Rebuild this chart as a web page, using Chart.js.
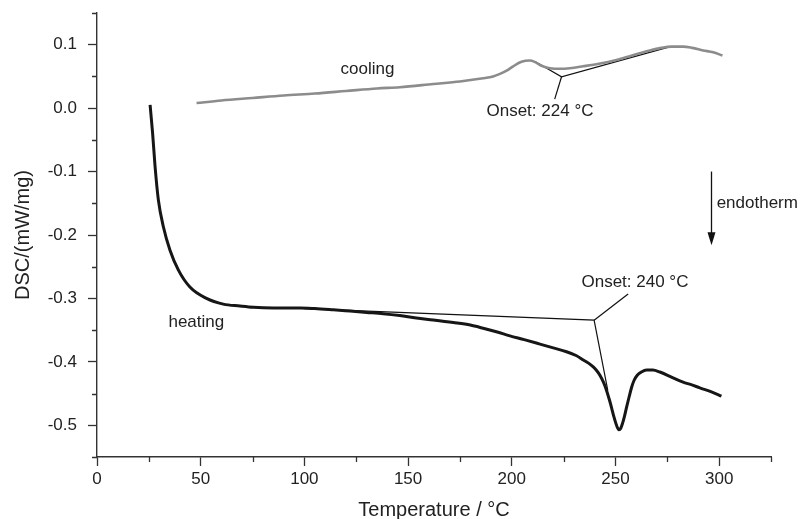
<!DOCTYPE html>
<html>
<head>
<meta charset="utf-8">
<script src="https://cdn.jsdelivr.net/npm/chart.js@4/dist/chart.umd.min.js"></script>
<style>
  html, body { margin: 0; padding: 0; background: #fff; }
  #wrap { width: 801px; height: 519px; }
</style>
</head>
<body>
<div id="wrap"><canvas id="dsc" width="801" height="519"></canvas></div>
<script>
// heating run (black)
const heatTemp = [25.6, 26.8, 28.0, 29.6, 32.0, 35.2, 39.2, 44.8, 52.8, 60.9, 68.9, 75.4, 85.0, 97.9, 105,
  113.9, 122, 130, 138, 146, 154, 162.1, 171.8, 180, 186.2, 193, 199.1, 206, 213.6, 220, 226.4, 231, 234.5,
  237, 239.3, 241, 242.5, 244.2, 245.7, 247, 248.1, 249.2, 250.2, 251, 251.7, 252.5, 253.4, 254.4, 255.4,
  256.6, 257.8, 259.0, 260.5, 262.5, 265, 268, 271.4, 277, 282.6, 286.5, 290.7, 296, 301.1];
const heatDsc = [0.005, -0.039, -0.092, -0.145, -0.187, -0.224, -0.255, -0.282, -0.300, -0.309, -0.312,
  -0.314, -0.315, -0.315, -0.316, -0.318, -0.320, -0.322, -0.324, -0.327, -0.331, -0.334, -0.338, -0.342,
  -0.347, -0.353, -0.359, -0.365, -0.372, -0.378, -0.384, -0.390, -0.397, -0.402, -0.408, -0.414, -0.421,
  -0.432, -0.445, -0.459, -0.472, -0.486, -0.497, -0.504, -0.507, -0.505, -0.497, -0.485, -0.471, -0.455,
  -0.440, -0.429, -0.421, -0.416, -0.413, -0.413, -0.416, -0.424, -0.432, -0.436, -0.441, -0.447, -0.454];

// cooling run (grey)
const coolTemp = [48, 60, 75, 90, 105, 120, 135, 146, 162.1, 175, 186.2, 191, 194.3, 197.5, 200.7, 204.7, 208.7,
  211, 213.6, 216, 218.4, 223.2, 228, 234.4, 242, 250.5, 258, 266.6, 272, 277, 282.6, 287, 292.3, 297.1, 301.6];
const coolDsc = [0.008, 0.012, 0.016, 0.020, 0.023, 0.027, 0.031, 0.033, 0.038, 0.042, 0.047, 0.050, 0.054,
  0.059, 0.066, 0.073, 0.075, 0.073, 0.068, 0.065, 0.063, 0.062, 0.063, 0.066, 0.070, 0.076, 0.083, 0.091,
  0.095, 0.097, 0.097, 0.095, 0.091, 0.088, 0.083];

// onset construction lines
const coolTangentTemp = [211.2, 224.0, 276.5];
const coolTangentDsc = [0.0737, 0.0495, 0.097];
const coolLeaderTemp = [224.0, 220.7];
const coolLeaderDsc = [0.0495, 0.0142];
const heatTangentTemp = [100, 239.7, 246.3];
const heatTangentDsc = [-0.316, -0.3343, -0.445];
const heatLeaderTemp = [239.7, 256.1];
const heatLeaderDsc = [-0.3343, -0.293];

const xTickValues = [0, 50, 100, 150, 200, 250, 300];
const yTickValues = [-0.5, -0.4, -0.3, -0.2, -0.1, 0.0, 0.1];

const FONT = "'Liberation Sans', Arial, sans-serif";
const INK = '#222';

function toPoints(xs, ys) {
    return xs.map((x, i) => ({ x: x, y: ys[i] }));
}

// short minor ticks, annotation text and the endotherm arrow
const extrasPlugin = {
    id: 'extras',
    afterDraw(chart) {
        const ctx = chart.ctx;
        const xs = chart.scales.x;
        const ys = chart.scales.y;
        ctx.save();
        ctx.strokeStyle = '#333';
        ctx.lineWidth = 1.3;
        ctx.beginPath();
        for (let v = 25; v <= 325; v += 50) {
            const px = Math.round(xs.getPixelForValue(v)) + 0.5;
            ctx.moveTo(px, ys.bottom);
            ctx.lineTo(px, ys.bottom + 5);
        }
        for (let v = -0.55; v <= 0.151; v += 0.1) {
            const py = Math.round(ys.getPixelForValue(v)) + 0.5;
            ctx.moveTo(xs.left, py);
            ctx.lineTo(xs.left - 5, py);
        }
        ctx.stroke();

        ctx.fillStyle = INK;
        ctx.font = '17px ' + FONT;
        ctx.textBaseline = 'middle';
        const notes = [
            ['cooling', 130.4, 0.0605, 'center'],
            ['heating', 47.9, -0.338, 'center'],
            ['Onset: 224 °C', 213.6, -0.0054, 'center'],
            ['Onset: 240 °C', 259.4, -0.275, 'center'],
            ['endotherm', 298.8, -0.150, 'left']
        ];
        notes.forEach(([text, t, v, align]) => {
            ctx.textAlign = align;
            ctx.fillText(text, xs.getPixelForValue(t), ys.getPixelForValue(v));
        });

        // arrow pointing down
        const ax = Math.round(xs.getPixelForValue(296.3)) + 0.5;
        const ay0 = ys.getPixelForValue(-0.100);
        const ay1 = ys.getPixelForValue(-0.216);
        ctx.strokeStyle = '#111';
        ctx.lineWidth = 1.3;
        ctx.beginPath();
        ctx.moveTo(ax, ay0);
        ctx.lineTo(ax, ay1 - 10);
        ctx.stroke();
        ctx.fillStyle = '#111';
        ctx.beginPath();
        ctx.moveTo(ax - 4, ay1 - 13);
        ctx.lineTo(ax + 4, ay1 - 13);
        ctx.lineTo(ax, ay1);
        ctx.closePath();
        ctx.fill();
        ctx.restore();
    }
};

const thinLine = (xs, ys) => ({
    data: toPoints(xs, ys),
    borderColor: '#111',
    borderWidth: 1.2,
    pointRadius: 0,
    tension: 0
});

new Chart(document.getElementById('dsc'), {
    type: 'line',
    data: {
        datasets: [
            {
                data: toPoints(coolTemp, coolDsc),
                borderColor: '#8c8c8c',
                borderWidth: 2.6,
                pointRadius: 0,
                cubicInterpolationMode: 'monotone'
            },
            {
                data: toPoints(heatTemp, heatDsc),
                borderColor: '#161616',
                borderWidth: 3,
                pointRadius: 0,
                cubicInterpolationMode: 'monotone'
            },
            thinLine(coolTangentTemp, coolTangentDsc),
            thinLine(coolLeaderTemp, coolLeaderDsc),
            thinLine(heatTangentTemp, heatTangentDsc),
            thinLine(heatLeaderTemp, heatLeaderDsc)
        ]
    },
    options: {
        responsive: false,
        animation: false,
        events: [],
        layout: { padding: { top: 13, right: 30, left: 0, bottom: 0 } },
        plugins: {
            legend: { display: false },
            tooltip: { enabled: false }
        },
        scales: {
            x: {
                type: 'linear',
                min: 0,
                max: 325,
                afterFit: (s) => { s.height = 62; s.paddingLeft = 0; s.paddingRight = 0; },
                afterBuildTicks: (s) => { s.ticks = xTickValues.map(v => ({ value: v })); },
                border: { display: true, color: '#333', width: 1.4 },
                grid: { drawOnChartArea: false, drawTicks: true, tickLength: 9, tickColor: '#333', tickWidth: 1.3 },
                ticks: {
                    padding: 3,
                    color: INK,
                    font: { family: FONT, size: 17 },
                    callback: (v) => String(v)
                },
                title: {
                    display: true,
                    text: 'Temperature / °C',
                    color: INK,
                    font: { family: FONT, size: 20, lineHeight: 1 },
                    padding: { top: 0, bottom: -1 }
                }
            },
            y: {
                type: 'linear',
                min: -0.55,
                max: 0.15,
                afterFit: (s) => { s.width = 97; s.paddingTop = 0; s.paddingBottom = 0; },
                afterBuildTicks: (s) => { s.ticks = yTickValues.map(v => ({ value: v })); },
                border: { display: true, color: '#333', width: 1.4 },
                grid: { drawOnChartArea: false, drawTicks: true, tickLength: 9, tickColor: '#333', tickWidth: 1.3 },
                ticks: {
                    padding: 11,
                    color: INK,
                    font: { family: FONT, size: 17 },
                    callback: (v) => Number(v).toFixed(1)
                },
                title: {
                    display: true,
                    text: 'DSC/(mW/mg)',
                    color: INK,
                    font: { family: FONT, size: 20, lineHeight: 1 },
                    padding: { top: 13, bottom: 0 }
                }
            }
        }
    },
    plugins: [extrasPlugin]
});
</script>
</body>
</html>
